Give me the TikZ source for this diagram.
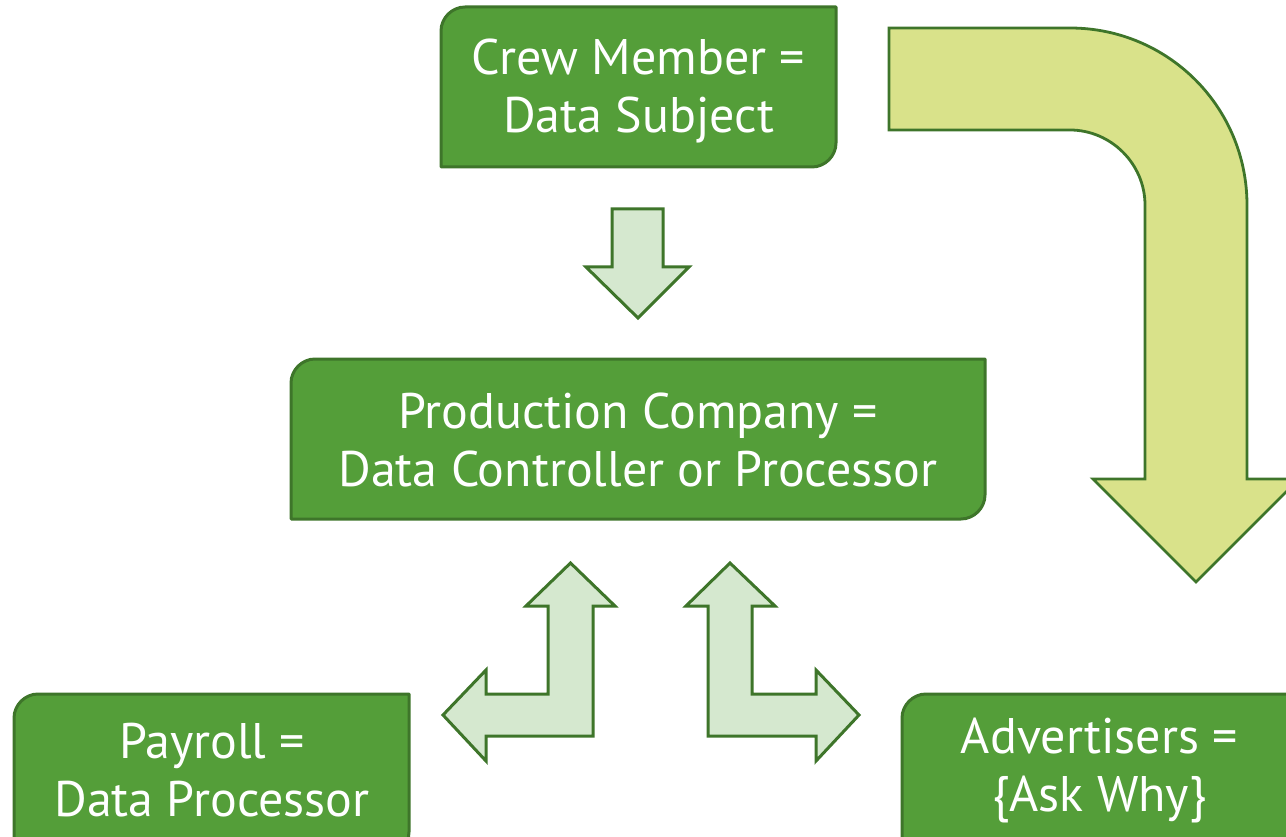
\documentclass[tikz,border=0pt]{standalone}
\usepackage{fontspec}
\setmainfont{PT Sans}
\definecolor{boxfill}{RGB}{84,158,57}
\definecolor{boxline}{RGB}{62,117,42}
\definecolor{lightfill}{RGB}{213,232,207}
\definecolor{bigfill}{RGB}{217,226,138}
\tikzset{
  boxsty/.style={fill=boxfill, draw=boxline, line width=3pt, line join=round},
  lightarrow/.style={fill=lightfill, draw=boxline, line width=3pt, line join=miter},
  bigarrow/.style={fill=bigfill, draw=boxline, line width=2.8pt, line join=miter},
  txt/.style={text=white, align=center, inner sep=0pt, font=\fontsize{50}{58}\selectfont}
}
\newcommand\rbox[4]{%
  \filldraw[boxsty] (#1,#2+24) .. controls (#1,#2+11) and (#1+11,#2) .. (#1+24,#2)
    -- (#3,#2) -- (#3,#4-24) .. controls (#3,#4-11) and (#3-11,#4) .. (#3-24,#4)
    -- (#1,#4) -- cycle;}
\begin{document}
\begin{tikzpicture}[x=1pt,y=-1pt]
\useasboundingbox (0,0) rectangle (1286,837);
\clip (0,0) rectangle (1286,837);
% boxes
\rbox{441}{7}{836}{167}
\rbox{291}{359}{985}{519}
\rbox{14}{694}{409}{856}
\rbox{902}{694}{1297}{856}
\node[txt] (crew) at (638.5,91) {Crew Member =\\Data Subject};
\node[txt] (prod) at (638,440) {Production Company =\\Data Controller or Processor};
\node[txt] (pay) at (212,770) {Payroll =\\Data Processor};
\node[txt] (adv) at (1099.5,770) {Advertisers =\\\{Ask Why\}};
% small down arrow
\filldraw[lightarrow] (612,209) -- (663,209) -- (663,267) -- (689,267) -- (638,318)
  -- (586,267) -- (612,267) -- cycle;
% left bent arrow
\filldraw[lightarrow] (570.5,563) -- (615,606) -- (593,606) -- (593,736) -- (486,736)
  -- (486,761) -- (443,715) -- (486,670) -- (486,694) -- (548,694) -- (548,606)
  -- (526,606) -- cycle;
% right bent arrow
\filldraw[lightarrow] (730,563) -- (775,606) -- (752,606) -- (752,694) -- (816,694)
  -- (816,670) -- (859,715) -- (816,761) -- (816,736) -- (708,736) -- (708,606)
  -- (686,606) -- cycle;
% big curved arrow
\filldraw[bigarrow] (889,28) -- (1070,28) .. controls (1168,28) and (1247,107) .. (1247,205)
  -- (1247,479) -- (1299,479) -- (1196,582) -- (1093,479) -- (1145,479) -- (1145,205)
  .. controls (1145,164) and (1111,130) .. (1070,130) -- (889,130) -- cycle;
\end{tikzpicture}
\end{document}
